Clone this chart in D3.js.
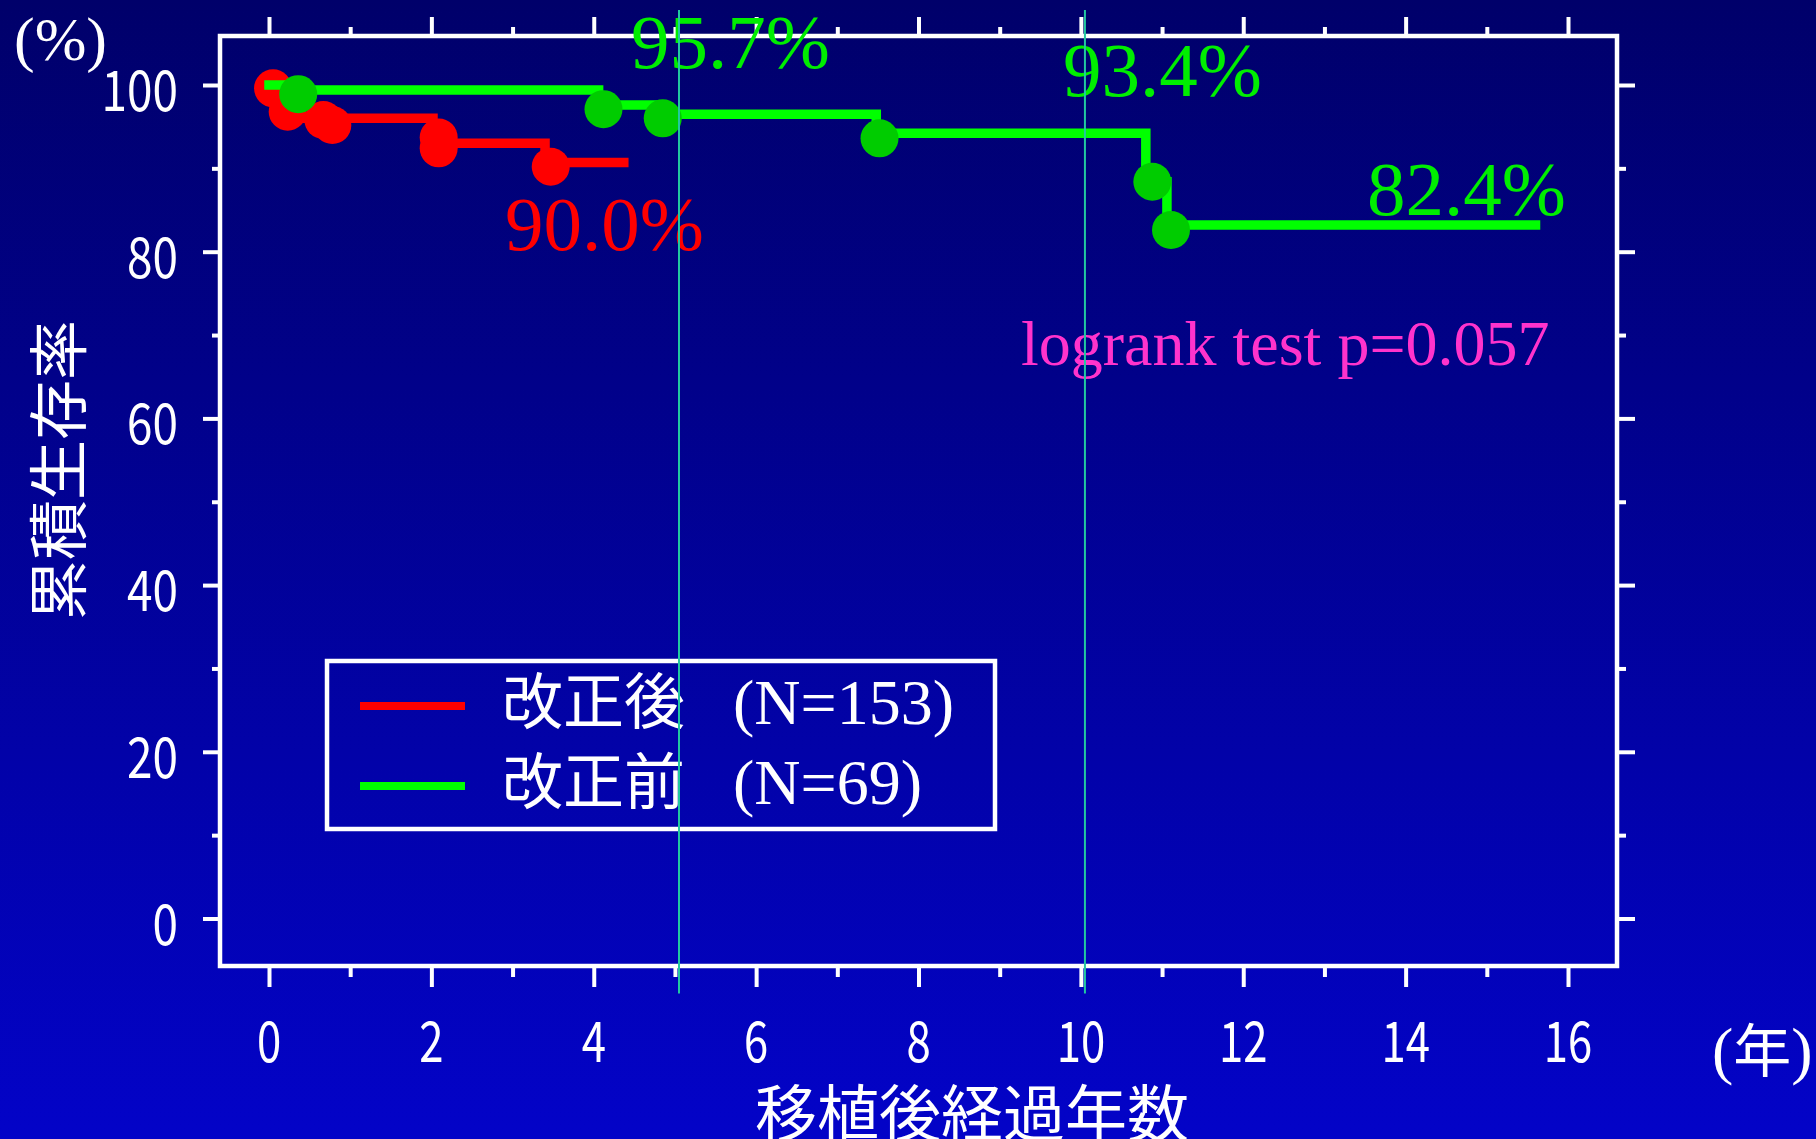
<!DOCTYPE html>
<html>
<head>
<meta charset="utf-8">
<script src="https://cdn.jsdelivr.net/npm/d3@7"></script>
<style>
  html, body { margin: 0; padding: 0; background: #000070; overflow: hidden; }
</style>
</head>
<body>
<div id="chart-container"></div>
<script>
var timeTicks = [0, 2, 4, 6, 8, 10, 12, 14, 16];
var timeMinorTicks = [1, 3, 5, 7, 9, 11, 13, 15];
var survivalTicks = [0, 20, 40, 60, 80, 100];
var survivalMinorTicks = [10, 30, 50, 70, 90];

// 改正後 (N=153)
var afterTimes = [0, 0.2, 2.02, 3.40, 4.37];
var afterSurvival = [100, 96.0, 93.0, 90.7, 90.7];
var afterEventTimes = [0.05, 0.23, 0.67, 0.78, 2.09, 2.09, 3.47];
var afterEventSurvival = [99.6, 96.8, 95.8, 95.2, 93.7, 92.4, 90.2];

// 改正前 (N=69)
var beforeTimes = [0, 0.3, 4.06, 4.85, 7.48, 10.8, 11.06, 15.6];
var beforeSurvival = [100, 99.4, 97.6, 96.5, 94.2, 88.4, 83.2, 83.2];
var beforeEventTimes = [0.36, 4.12, 4.85, 7.52, 10.88, 11.11];
var beforeEventSurvival = [98.9, 97.1, 96.0, 93.6, 88.4, 82.6];

var markTimes = [5.05, 10.05];
var legendNames = ["改正後", "改正前"];
var legendCounts = ["(N=153)", "(N=69)"];
var rateLabels = ["95.7%", "93.4%", "82.4%", "90.0%"];
var pLabel = "logrank test p=0.057";

var width = 1816, height = 1139;
var frame = {left: 220, right: 1617, top: 36, bottom: 966};
var sans = "'Noto Sans CJK JP', 'Noto Sans', sans-serif";
var serif = "'Liberation Serif', 'DejaVu Serif', serif";

var svg = d3.select("#chart-container").append("svg")
    .attr("width", width)
    .attr("height", height);

var grad = svg.append("defs").append("linearGradient")
    .attr("id", "bg")
    .attr("x1", 0).attr("y1", 0).attr("x2", 0).attr("y2", 1);
grad.append("stop").attr("offset", "0%").attr("stop-color", "#00006a");
grad.append("stop").attr("offset", "100%").attr("stop-color", "#0303c8");

svg.append("rect")
  .attr("width", width)
  .attr("height", height)
  .attr("fill", "url(#bg)");

var x = d3.scaleLinear().domain([0, 16]).range([269, 1568]);
var y = d3.scaleLinear().domain([0, 100]).range([918.5, 85]);

function tickAxis(axis, pos, values, size) {
  var g = svg.append("g")
      .attr("transform", pos)
      .call(axis.tickValues(values).tickSize(size).tickFormat(""));
  g.select(".domain").remove();
  g.selectAll("line").attr("stroke", "#fff").attr("stroke-width", 4);
}

tickAxis(d3.axisBottom(x), "translate(0," + frame.bottom + ")", timeTicks, 21);
tickAxis(d3.axisBottom(x), "translate(0," + frame.bottom + ")", timeMinorTicks, 11);
tickAxis(d3.axisTop(x), "translate(0," + frame.top + ")", timeTicks, 19);
tickAxis(d3.axisTop(x), "translate(0," + frame.top + ")", timeMinorTicks, 9);
tickAxis(d3.axisLeft(y), "translate(" + frame.left + ",0)", survivalTicks, 17);
tickAxis(d3.axisLeft(y), "translate(" + frame.left + ",0)", survivalMinorTicks, 8);
tickAxis(d3.axisRight(y), "translate(" + frame.right + ",0)", survivalTicks, 18);
tickAxis(d3.axisRight(y), "translate(" + frame.right + ",0)", survivalMinorTicks, 9);

svg.append("rect")
  .attr("x", frame.left)
  .attr("y", frame.top)
  .attr("width", frame.right - frame.left)
  .attr("height", frame.bottom - frame.top)
  .attr("fill", "none")
  .attr("stroke", "#fff")
  .attr("stroke-width", 4.5);

// tick labels, narrow gothic
svg.append("g").selectAll("text")
    .data(timeTicks)
  .enter().append("text")
    .attr("transform", function(d) { return "translate(" + x(d) + ",1062) scale(0.78,1)"; })
    .attr("text-anchor", "middle")
    .attr("fill", "#fff")
    .style("font-family", sans)
    .style("font-size", "56px")
    .text(function(d) { return d; });

svg.append("g").selectAll("text")
    .data(survivalTicks)
  .enter().append("text")
    .attr("transform", function(d) { return "translate(178," + (y(d) + 26) + ") scale(0.82,1)"; })
    .attr("text-anchor", "end")
    .attr("fill", "#fff")
    .style("font-family", sans)
    .style("font-size", "56px")
    .text(function(d) { return d; });

svg.append("text")
  .attr("transform", "translate(54,470) rotate(-90)")
  .attr("text-anchor", "middle")
  .attr("dominant-baseline", "central")
  .attr("fill", "#fff")
  .style("font-family", sans)
  .style("font-size", "60px")
  .text("累積生存率");

svg.append("text")
  .attr("x", 972)
  .attr("y", 1110)
  .attr("text-anchor", "middle")
  .attr("dominant-baseline", "central")
  .attr("fill", "#fff")
  .style("font-family", sans)
  .style("font-size", "62px")
  .text("移植後経過年数");

var unitX = svg.append("text")
  .attr("x", 1712)
  .attr("y", 1072)
  .attr("fill", "#fff")
  .style("font-size", "64px");
unitX.append("tspan").style("font-family", serif).text("(");
unitX.append("tspan").style("font-family", sans).style("font-size", "58px").text("年");
unitX.append("tspan").style("font-family", serif).text(")");

svg.append("text")
  .attr("x", 14)
  .attr("y", 60)
  .attr("fill", "#fff")
  .style("font-family", serif)
  .style("font-size", "62px")
  .text("(%)");

// survival curves
var step = d3.line()
    .x(function(d) { return x(d[0]); })
    .y(function(d) { return y(d[1]); })
    .curve(d3.curveStepAfter);

function drawCurve(times, values, evTimes, evValues, lineColor, dotColor) {
  svg.append("path")
    .datum(d3.zip(times, values))
    .attr("d", step)
    .attr("fill", "none")
    .attr("stroke", lineColor)
    .attr("stroke-width", 9.5)
    .attr("stroke-linecap", "square");

  svg.append("g").selectAll("circle")
      .data(d3.zip(evTimes, evValues))
    .enter().append("circle")
      .attr("cx", function(d) { return x(d[0]); })
      .attr("cy", function(d) { return y(d[1]); })
      .attr("r", 19)
      .attr("fill", dotColor);
}

drawCurve(afterTimes, afterSurvival, afterEventTimes, afterEventSurvival, "#ff0000", "#ff0000");
drawCurve(beforeTimes, beforeSurvival, beforeEventTimes, beforeEventSurvival, "#00ff00", "#00cc00");

// rate annotations
var rateColors = ["#00ee00", "#00ee00", "#00ee00", "#ff0000"];
var ratePos = [[631, 68], [1063, 96], [1367, 215], [505, 250]];
svg.append("g").selectAll("text")
    .data(rateLabels)
  .enter().append("text")
    .attr("x", function(d, i) { return ratePos[i][0]; })
    .attr("y", function(d, i) { return ratePos[i][1]; })
    .attr("fill", function(d, i) { return rateColors[i]; })
    .style("font-family", serif)
    .style("font-size", "77px")
    .text(function(d) { return d; });

svg.append("text")
  .attr("x", 1021)
  .attr("y", 365)
  .attr("fill", "#ff33cc")
  .style("font-family", serif)
  .style("font-size", "64px")
  .text(pLabel);

// legend
var legend = svg.append("g");
legend.append("rect")
  .attr("x", 327)
  .attr("y", 661)
  .attr("width", 668)
  .attr("height", 168)
  .attr("fill", "none")
  .attr("stroke", "#fff")
  .attr("stroke-width", 4.5);

var legendColors = ["#ff0000", "#00ff00"];
var row = legend.selectAll("g.row")
    .data(legendNames)
  .enter().append("g")
    .attr("class", "row")
    .attr("transform", function(d, i) { return "translate(0," + (i * 80) + ")"; });

row.append("line")
  .attr("x1", 360).attr("x2", 465)
  .attr("y1", 706).attr("y2", 706)
  .attr("stroke", function(d, i) { return legendColors[i]; })
  .attr("stroke-width", 8);

var label = row.append("text")
  .attr("y", 724)
  .attr("fill", "#fff");
label.append("tspan")
  .attr("x", 502)
  .style("font-family", sans)
  .style("font-size", "61px")
  .text(function(d) { return d; });
label.append("tspan")
  .attr("x", 733)
  .style("font-family", serif)
  .style("font-size", "64px")
  .text(function(d, i) { return legendCounts[i]; });

// reference lines at 5 and 10 years
svg.append("g").selectAll("line")
    .data(markTimes)
  .enter().append("line")
    .attr("x1", function(d) { return x(d); })
    .attr("x2", function(d) { return x(d); })
    .attr("y1", y(109))
    .attr("y2", y(-9))
    .attr("stroke", "#22c8a0")
    .attr("stroke-width", 2);
</script>
</body>
</html>
